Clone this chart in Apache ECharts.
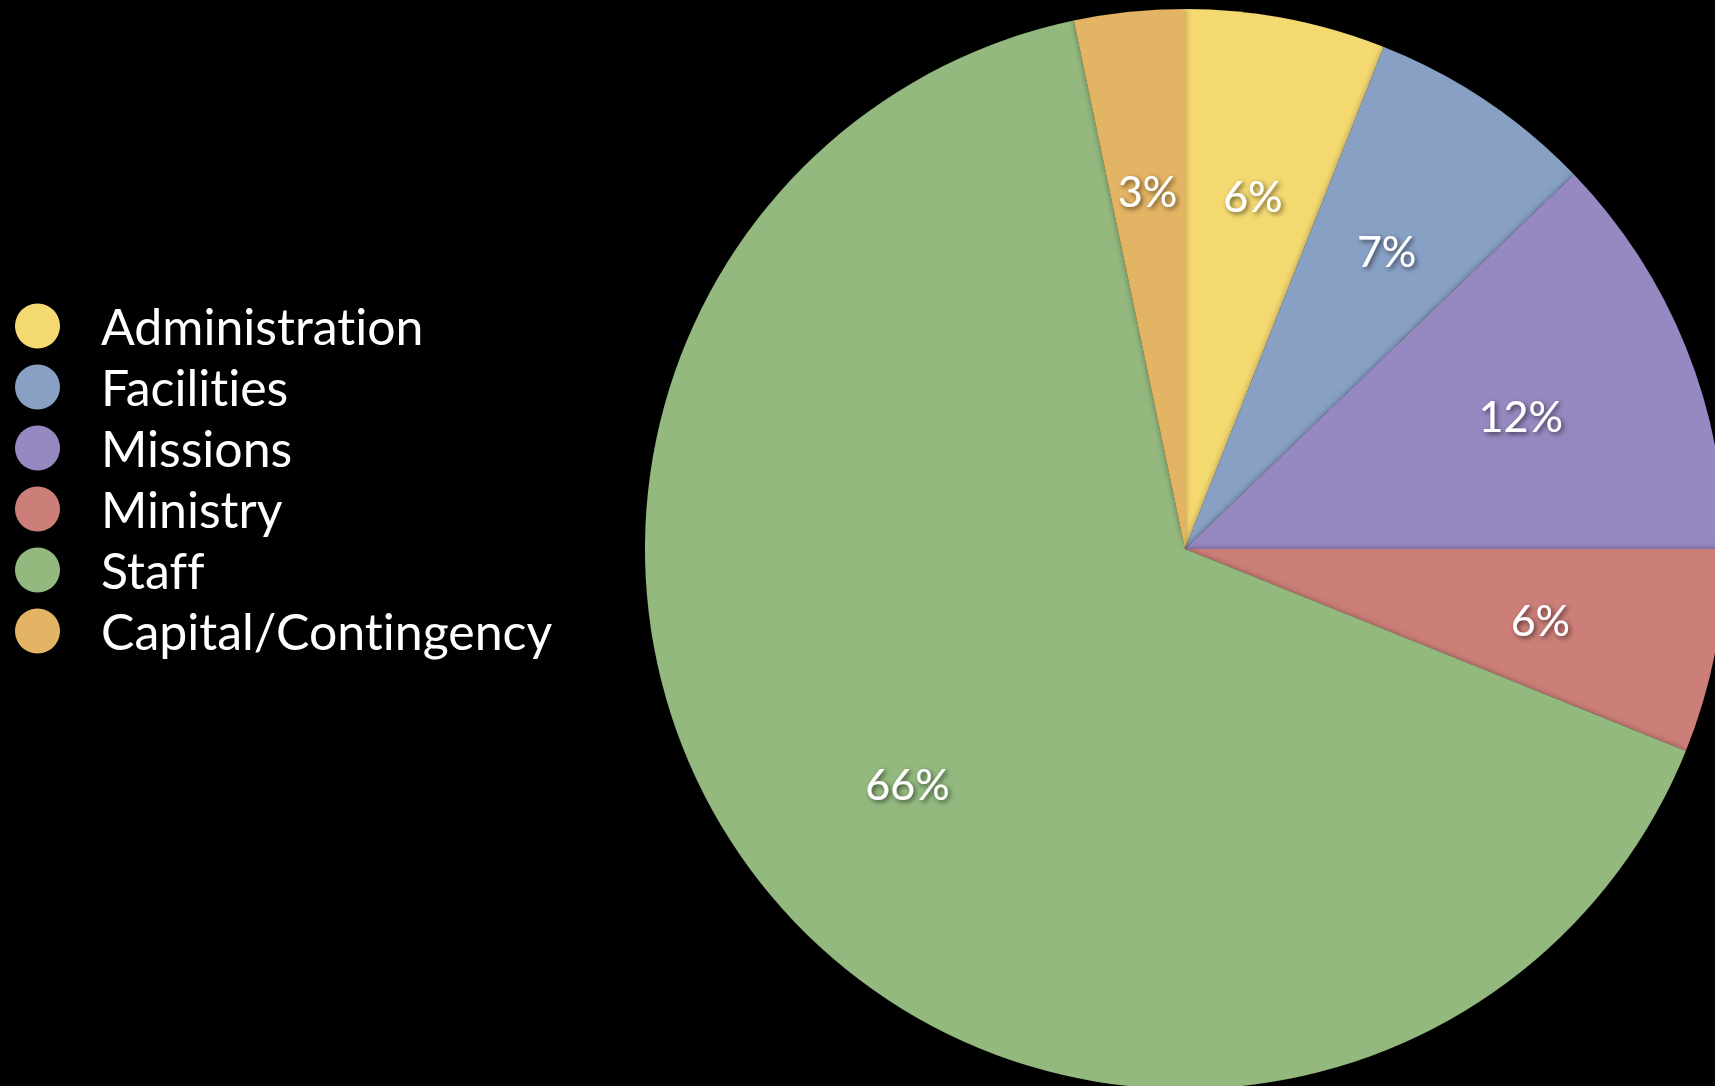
<!DOCTYPE html>
<html>
<head>
<meta charset="utf-8">
<script src="https://cdn.jsdelivr.net/npm/echarts@6/dist/echarts.min.js"></script>
<style>
  html, body { margin: 0; padding: 0; background: #000; }
  #chart { width: 1715px; height: 1086px; }
  /* Lato's ti ligature looks wrong next to the original */
  #chart text { font-variant-ligatures: no-common-ligatures !important; }
</style>
</head>
<body>
<div id="chart"></div>
<script>
var categories = ['Administration', 'Facilities', 'Missions', 'Ministry', 'Staff', 'Capital/Contingency'];
var values = [6.0, 6.8, 12.2, 6.1, 65.6, 3.3];
var colors = ['#f4d870', '#87a0c4', '#9688c0', '#cc7e78', '#93b97f', '#e3b463'];

var chart = echarts.init(document.getElementById('chart'), null, { renderer: 'svg' });

var pieData = categories.map(function(name, i) {
    return { name: name, value: values[i], itemStyle: { color: colors[i] } };
});

// labels sit about two thirds out, so a transparent ring carries them
var labelData = categories.map(function(name, i) {
    return { name: name, value: values[i], itemStyle: { color: 'rgba(0,0,0,0)' } };
});

var option = {
    backgroundColor: '#000',
    animation: false,
    legend: {
        orient: 'vertical',
        left: 10,
        top: 296,
        data: categories,
        icon: 'circle',
        itemWidth: 45,
        itemHeight: 45,
        itemGap: 11,
        textStyle: {
            color: '#fff',
            fontFamily: 'Lato',
            fontSize: 50,
            padding: [0, 0, 0, 36]
        }
    },
    series: [
        {
            type: 'pie',
            center: [1185, 549],
            radius: 540,
            startAngle: 90,
            clockwise: true,
            silent: true,
            label: { show: false },
            labelLine: { show: false },
            itemStyle: {
                shadowBlur: 6,
                shadowColor: 'rgba(0,0,0,0.35)'
            },
            data: pieData
        },
        {
            type: 'pie',
            center: [1185, 549],
            radius: [178, 540],
            startAngle: 90,
            clockwise: true,
            silent: true,
            label: {
                show: true,
                position: 'inside',
                offset: [0, 2],
                color: '#fff',
                fontFamily: 'Lato',
                fontSize: 43,
                textShadowColor: 'rgba(0,0,0,0.6)',
                textShadowBlur: 5,
                textShadowOffsetX: 2,
                textShadowOffsetY: 2,
                formatter: function(p) {
                    return Math.round(p.value) + '%';
                }
            },
            labelLine: { show: false },
            data: labelData
        }
    ]
};

chart.setOption(option);
</script>
</body>
</html>
